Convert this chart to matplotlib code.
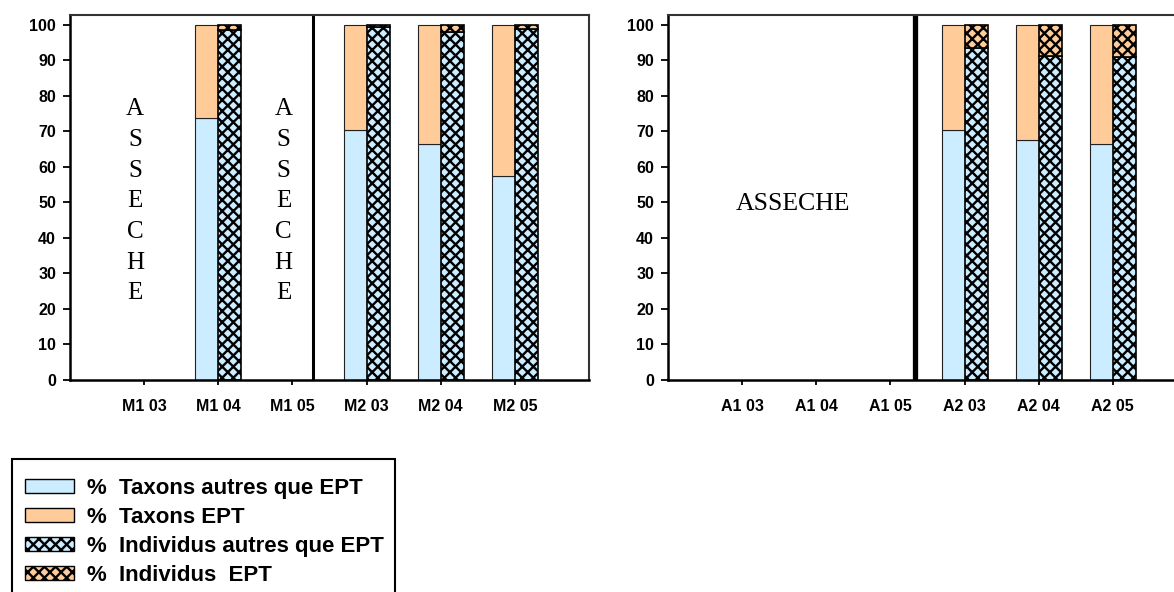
import matplotlib.pyplot as plt
import numpy as np

plt.rcParams['hatch.linewidth'] = 1.7
plt.rcParams['font.family'] = ['Liberation Sans', 'DejaVu Sans']

# --- data ---
stations_m = ["M1 03", "M1 04", "M1 05", "M2 03", "M2 04", "M2 05"]
tax_autres_m = [0, 73.7, 0, 70.4, 66.4, 57.5]
ind_autres_m = [0, 98.6, 0, 99.4, 98.1, 98.8]
dry_m = [True, False, True, False, False, False]

stations_a = ["A1 03", "A1 04", "A1 05", "A2 03", "A2 04", "A2 05"]
tax_autres_a = [0, 0, 0, 70.4, 67.6, 66.4]
ind_autres_a = [0, 0, 0, 93.4, 91.3, 91.1]
dry_a = [True, True, True, False, False, False]

legend_labels = ["%  Taxons autres que EPT", "%  Taxons EPT",
                 "%  Individus autres que EPT", "%  Individus  EPT"]

BLUE = '#CCECFF'
ORANGE = '#FFCC99'
W = 0.31
HATCH = 'xxx'

fig = plt.figure(figsize=(11.74, 5.92), dpi=100)
ax1 = fig.add_axes([70/1174, 1-380/592, 519/1174, 365/592])
ax2 = fig.add_axes([668/1174, 1-380/592, 519/1174, 365/592])


def draw(ax, names, tax, ind, dry):
    x = np.arange(len(names))
    for i in range(len(names)):
        if dry[i]:
            continue
        ax.bar(x[i] - W/2, tax[i], W, color=BLUE, edgecolor='#222222', lw=0.8)
        ax.bar(x[i] - W/2, 100 - tax[i], W, bottom=tax[i], color=ORANGE,
               edgecolor='#222222', lw=0.8)
        ax.bar(x[i] + W/2, ind[i], W, color=BLUE, edgecolor='black', lw=1.2,
               hatch=HATCH)
        ax.bar(x[i] + W/2, 100 - ind[i], W, bottom=ind[i], color=ORANGE,
               edgecolor='black', lw=1.2, hatch=HATCH)
    ax.set_xlim(-1, 6)
    ax.set_ylim(0, 102.8)
    ax.set_yticks(range(0, 101, 10))
    ax.set_xticks(x)
    ax.set_xticklabels(names)
    ax.tick_params(axis='y', length=5, width=1.3, pad=5, labelsize=11.5)
    ax.tick_params(axis='x', length=3.5, width=1.3, pad=10, labelsize=11.5)
    for lab in ax.get_xticklabels() + ax.get_yticklabels():
        lab.set_fontweight('bold')
    for side in ['left', 'bottom']:
        ax.spines[side].set_linewidth(1.8)
    for side in ['top', 'right']:
        ax.spines[side].set_linewidth(1.5)
        ax.spines[side].set_color('#333333')


draw(ax1, stations_m, tax_autres_m, ind_autres_m, dry_m)
draw(ax2, stations_a, tax_autres_a, ind_autres_a, dry_a)

ax1.axvline(2.28, color='black', lw=2.2)
ax2.axvline(2.33, color='black', lw=3.8)

vert = "\n".join("ASSECHE")
for xp in [-0.12, 1.88]:
    ax1.text(xp, 50.3, vert, ha='center', va='center', fontsize=18,
             family='Liberation Serif', linespacing=1.51)
ax2.text(0.68, 49.5, "ASSECHE", ha='center', va='center', fontsize=18.5,
         family='Liberation Serif')

# legend: frame drawn separately, it runs off the bottom of the picture
box = plt.Rectangle((12/1174, -8/592), 383/1174, 141/592,
                    transform=fig.transFigure, facecolor='none',
                    edgecolor='black', lw=1.5)
fig.patches.append(box)

handles = [
    plt.Rectangle((0, 0), 1, 1, facecolor=BLUE, edgecolor='black', lw=1),
    plt.Rectangle((0, 0), 1, 1, facecolor=ORANGE, edgecolor='black', lw=1),
    plt.Rectangle((0, 0), 1, 1, facecolor=BLUE, edgecolor='black', lw=1, hatch=HATCH),
    plt.Rectangle((0, 0), 1, 1, facecolor=ORANGE, edgecolor='black', lw=1, hatch=HATCH),
]
leg = fig.legend(handles, legend_labels, loc='upper left',
                 bbox_to_anchor=(25/1174, 1-478/592), borderaxespad=0,
                 frameon=False, borderpad=0,
                 prop={'weight': 'bold', 'size': 16},
                 handlelength=2.2, handleheight=0.55, handletextpad=0.6,
                 labelspacing=0.36)

fig.savefig("out.png", dpi=100)
